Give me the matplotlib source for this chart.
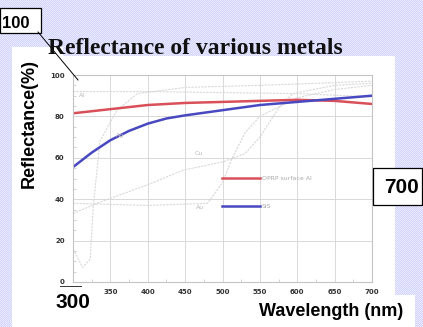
import numpy as np
import matplotlib
matplotlib.use("Agg")
import matplotlib.pyplot as plt
from matplotlib.patches import Rectangle
from matplotlib.lines import Line2D

W, H = 423, 327

# --- data ---
wl = [300, 325, 350, 375, 400, 425, 450, 500, 550, 600, 650, 700]
oprp = [81.5, 82.5, 83.5, 84.5, 85.5, 86.0, 86.5, 87.0, 87.5, 88.0, 87.5, 86.0]
sis = [55.5, 62.5, 68.5, 73.0, 76.5, 79.0, 80.5, 83.0, 85.5, 87.0, 88.5, 90.0]

# faint reference curves of the scanned chart
al_wl = [300, 400, 500, 600, 700]
al_r = [92.0, 92.0, 91.5, 91.0, 89.5]
ag_wl = [300, 313, 323, 327, 336, 359, 386, 450, 550, 700]
ag_r = [16, 7, 11, 36, 68, 83, 91, 94, 95, 97]
au_wl = [300, 400, 480, 500, 512, 530, 550, 600, 650, 700]
au_r = [38, 37, 38, 48, 59, 72, 80, 89, 93, 95]
cu_wl = [300, 332, 400, 447, 500, 530, 550, 575, 594, 650, 700]
cu_r = [33, 38, 47, 54, 58, 62, 70, 84, 91, 95, 96]

x_ticks = [300, 350, 400, 450, 500, 550, 600, 650, 700]
x_labels = ["", "350", "400", "450", "500", "550", "600", "650", "700"]
y_ticks = [0, 20, 40, 60, 80, 100]


def fx(px):
    return px / W


def fy(py):
    return 1 - py / H


fig = plt.figure(figsize=(W / 100, H / 100), dpi=100)

# lavender checker background
yy, xx = np.mgrid[0:H, 0:W]
chk = ((xx + yy) % 2).astype(float)
c1 = np.array([210, 210, 255]) / 255
c2 = np.array([236, 236, 255]) / 255
bg = c1 * chk[..., None] + c2 * (1 - chk[..., None])
fig.figimage(bg, xo=0, yo=0, origin="upper", zorder=-3)

# white panels
for (x0, y0, x1, y1) in [(12, 56, 395, 327), (12, 47, 63, 327), (245, 295, 415, 327)]:
    fig.add_artist(Rectangle((fx(x0), fy(y1)), fx(x1 - x0), (y1 - y0) / H,
                             transform=fig.transFigure, facecolor="white",
                             edgecolor="none", zorder=-2))

ax = fig.add_axes([fx(73), fy(282), fx(372 - 73), (282 - 75) / H])
ax.set_facecolor("white")

faint = dict(color="#d8d8d8", lw=0.8, ls=(0, (2, 1)))
ax.plot(al_wl, al_r, **faint)
ax.plot(ag_wl, ag_r, **faint)
ax.plot(au_wl, au_r, **faint)
ax.plot(cu_wl, cu_r, **faint)
for name, x, y in [("Al", 308, 90), ("Ag", 357, 71), ("Cu", 463, 62), ("Au", 465, 36)]:
    ax.text(x, y, name, fontsize=4.5, color="#b8b8b8", ha="left", va="center")

ax.plot(wl, oprp, color="#d9505a", lw=1.8, label="OPRP surface Al")
ax.plot(wl, sis, color="#4848c0", lw=1.8, label="SiS")

ax.set_xlim(300, 700)
ax.set_ylim(0, 100)
ax.set_xticks(x_ticks)
ax.set_xticklabels(x_labels)
ax.set_yticks(y_ticks)
ax.set_xticks(np.arange(300, 701, 25), minor=True)
ax.set_yticks(np.arange(0, 101, 5), minor=True)
ax.tick_params(which="major", length=0, labelsize=5, labelcolor="#333333")
ax.tick_params(axis="y", pad=6)
ax.tick_params(axis="x", pad=5)
ax.tick_params(which="minor", direction="in", length=2, color="#cccccc", width=0.6)
for lab in ax.get_xticklabels() + ax.get_yticklabels():
    lab.set_fontweight("bold")
ax.grid(True, which="major", color="#d8d8d8", lw=0.7)
for s in ax.spines.values():
    s.set_color("#c4c4c4")
    s.set_linewidth(0.8)

ax.legend(loc="upper left", bbox_to_anchor=((222 - 73) / 299, (282 - 176) / 207),
          frameon=False, fontsize=4.5, labelcolor="#aaaaaa", handlelength=6,
          handletextpad=0.4, labelspacing=3.6, borderpad=0, borderaxespad=0)

# texts
fig.text(fx(48), fy(54), "Reflectance of various metals", family="Liberation Serif",
         fontweight="bold", fontsize=17, ha="left", va="baseline", color="#111111")
fig.text(fx(29), fy(124), "Reflectance(%)", family="Liberation Sans", fontweight="bold",
         fontsize=13, rotation=90, ha="center", va="center")
fig.text(fx(331), fy(311), "Wavelength (nm)", family="Liberation Sans", fontweight="bold",
         fontsize=13, ha="center", va="center")

# annotation boxes
fig.add_artist(Rectangle((fx(0), fy(33)), fx(41), 25 / H, transform=fig.transFigure,
                         facecolor="white", edgecolor="black", lw=0.9, zorder=3))
fig.text(fx(16), fy(24), "100", family="Liberation Sans", fontweight="bold",
         fontsize=12, ha="center", va="center", zorder=4)
fig.add_artist(Line2D([fx(38), fx(78)], [fy(32), fy(80)], transform=fig.transFigure,
                      color="black", lw=0.7, zorder=3))

fig.add_artist(Rectangle((fx(373), fy(205)), fx(49), 37 / H, transform=fig.transFigure,
                         facecolor="white", edgecolor="black", lw=0.9, zorder=3))
fig.text(fx(401), fy(187), "700", family="Liberation Sans", fontweight="bold",
         fontsize=15, ha="center", va="center", zorder=4)

fig.add_artist(Line2D([fx(60), fx(81)], [fy(286), fy(286)], transform=fig.transFigure,
                      color="#333333", lw=0.7, zorder=3))
fig.text(fx(73), fy(302), "300", family="Liberation Sans", fontweight="bold",
         fontsize=15, ha="center", va="center", zorder=4)

fig.savefig("out.png", dpi=100)
